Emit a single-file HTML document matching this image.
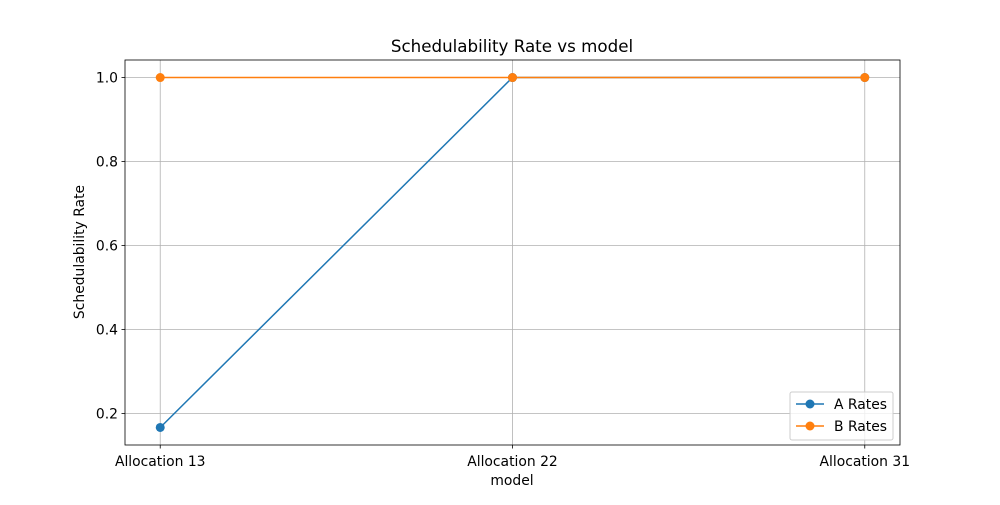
<!DOCTYPE html>
<html><head><meta charset="utf-8"><style>
body{margin:0;background:#fff;font-family:"Liberation Sans","DejaVu Sans",sans-serif}
svg text{font-family:"DejaVu Sans","Liberation Sans",sans-serif}
</style></head><body>
<svg id="chart" width="1000" height="500" xmlns="http://www.w3.org/2000/svg">
<rect width="1000" height="500" fill="#fff"/>
<g id="grid"></g>
<g id="axes"></g>
<g id="series"></g>
<text x="512" y="52" font-size="16.7" text-anchor="middle">Schedulability Rate vs model</text>
<text x="512" y="485" font-size="13.9" text-anchor="middle">model</text>
<text transform="translate(84,252) rotate(-90)" font-size="13.9" text-anchor="middle">Schedulability Rate</text>
<g>
<rect x="790" y="392" width="103" height="48" rx="2" fill="#fff" fill-opacity="0.8" stroke="#ccc"/>
<g>
<line x1="796" y1="404" x2="824" y2="404" stroke="#1f77b4" stroke-width="1.5"/><circle cx="810" cy="404" r="4.5" fill="#1f77b4"/>
<text x="834" y="409" font-size="13.9">A Rates</text></g>
<g>
<line x1="796" y1="426" x2="824" y2="426" stroke="#ff7f0e" stroke-width="1.5"/><circle cx="810" cy="426" r="4.5" fill="#ff7f0e"/>
<text x="834" y="431" font-size="13.9">B Rates</text></g>
</g>
</svg>
<script>
const categories=["Allocation 13","Allocation 22","Allocation 31"];
const seriesA=[0.1667,1.0,1.0];
const seriesB=[1.0,1.0,1.0];
const yTicks=[0.2,0.4,0.6,0.8,1.0];
const NS="http://www.w3.org/2000/svg";
const L=125,R=900,T=60,B=445,ymin=0.125,ymax=1.0417;
const xs=i=>L+(i+0.1)/2.2*(R-L);
const ys=v=>B-(v-ymin)/(ymax-ymin)*(B-T);
function mk(p,tag,a){const e=document.createElementNS(NS,tag);for(const k in a)e.setAttribute(k,a[k]);p.appendChild(e);return e;}
const g=document.getElementById('grid'),ax=document.getElementById('axes'),s=document.getElementById('series');
categories.forEach((c,i)=>{const x=xs(i);
const gl=mk(g,'line',{x1:x,x2:x,y1:T,y2:B,stroke:'#b0b0b0','stroke-width':0.8});


mk(ax,'line',{x1:x,x2:x,y1:B,y2:B+3.5,stroke:'#000','stroke-width':0.8});
const t=mk(ax,'text',{x:x,y:B+21,'font-size':13.9,'text-anchor':'middle'});t.textContent=c;

});
yTicks.forEach(v=>{const y=ys(v);
const gl=mk(g,'line',{x1:L,x2:R,y1:y,y2:y,stroke:'#b0b0b0','stroke-width':0.8});


mk(ax,'line',{x1:L-3.5,x2:L,y1:y,y2:y,stroke:'#000','stroke-width':0.8});
const t=mk(ax,'text',{x:L-7,y:y+5,'font-size':13.9,'text-anchor':'end'});t.textContent=v.toFixed(1);

});
const fr=mk(ax,'rect',{x:L,y:T,width:R-L,height:B-T,fill:'none',stroke:'#000','stroke-width':0.8});


[[seriesA,'#1f77b4','a'],[seriesB,'#ff7f0e','b']].forEach(([d,col,n])=>{
const pl=mk(s,'polyline',{points:d.map((v,i)=>xs(i)+','+ys(v)).join(' '),fill:'none',stroke:col,'stroke-width':1.5});


d.forEach((v,i)=>{const c=mk(s,'circle',{cx:xs(i),cy:ys(v),r:4.5,fill:col});

});});
</script>
</body></html>
